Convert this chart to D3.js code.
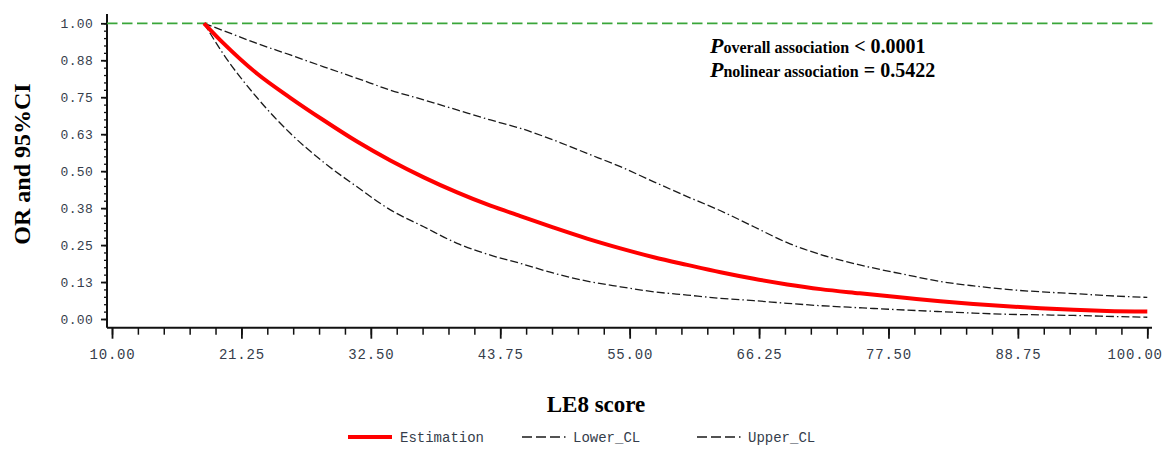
<!DOCTYPE html>
<html>
<head>
	<title></title>
	<script src="https://d3js.org/d3.v7.min.js"></script>
	<style>
		body { margin: 0; background: #fff; }
		.tick text { font-family: "Liberation Mono", monospace; fill: #353d4b; }
		.axis line, .axis path { stroke: #111; }
		.title { font-family: "Liberation Serif", "Times New Roman", serif; font-weight: bold; fill: #000; }
		.note { font-family: "Liberation Serif", "Times New Roman", serif; font-weight: bold; fill: #000; white-space: pre; }
		.legend text { font-family: "Liberation Mono", monospace; font-size: 14px; fill: #353d4b; }
	</style>
</head>
<body>
	<svg width="1170" height="459"></svg>
<script type="text/javascript">

// LE8 score positions
var score = [18, 19.7, 22.6, 25.5, 28.4, 31.3, 34.2, 37.1, 40, 42.9, 45.5, 48.4, 51.3, 54.2, 57.1,
	60, 62.9, 65.8, 68.7, 71.6, 75, 79.1, 82, 84.9, 87.8, 90.7, 93.6, 96.5, 100];
var estimation = [1.0, 0.932, 0.830, 0.748, 0.672, 0.600, 0.536, 0.479, 0.428, 0.383, 0.348, 0.309, 0.272, 0.239, 0.209,
	0.183, 0.158, 0.136, 0.117, 0.101, 0.087, 0.071, 0.060, 0.051, 0.043, 0.036, 0.031, 0.027, 0.025];
var lowerCL = [1.0, 0.895, 0.749, 0.628, 0.530, 0.447, 0.369, 0.312, 0.256, 0.216, 0.188, 0.155, 0.128, 0.109, 0.092,
	0.081, 0.070, 0.062, 0.053, 0.045, 0.038, 0.030, 0.025, 0.020, 0.016, 0.014, 0.012, 0.009, 0.006];
var upperCL = [1.0, 0.975, 0.932, 0.893, 0.853, 0.814, 0.774, 0.741, 0.707, 0.673, 0.645, 0.605, 0.560, 0.515, 0.464,
	0.414, 0.366, 0.312, 0.258, 0.218, 0.183, 0.149, 0.127, 0.112, 0.100, 0.092, 0.086, 0.079, 0.073];

var xTicks = [10, 21.25, 32.5, 43.75, 55, 66.25, 77.5, 88.75, 100];
var yTicks = [0, 0.125, 0.25, 0.375, 0.5, 0.625, 0.75, 0.875, 1];
var refLine = 1;
var legendNames = ["Estimation", "Lower_CL", "Upper_CL"];

var svg = d3.select("svg");
var x = d3.scaleLinear().domain([10, 100]).range([112, 1147.3]);
var y = d3.scaleLinear().domain([0, 1]).range([319, 23.3]);
var axisX = 107, axisY = 327.7;

// minor ticks first
svg.append("g")
	.attr("class", "axis")
	.attr("transform", "translate(" + axisX + ",0)")
	.call(d3.axisLeft(y).tickValues(d3.range(0, 41).map(function(i) { return i * 0.025; })).tickSize(3).tickFormat(""))
	.call(function(g) { g.select(".domain").remove(); g.selectAll("line").attr("stroke-width", 1.3); });
svg.append("g")
	.attr("class", "axis")
	.attr("transform", "translate(0," + axisY + ")")
	.call(d3.axisBottom(x).tickValues(d3.range(0, 41).map(function(i) { return 10 + i * 2.25; })).tickSize(7).tickFormat(""))
	.call(function(g) { g.select(".domain").remove(); g.selectAll("line").attr("stroke-width", 1.5); });

var yAxis = svg.append("g")
	.attr("class", "axis")
	.attr("transform", "translate(" + axisX + ",0)")
	.call(d3.axisLeft(y).tickValues(yTicks).tickFormat(d3.format(".2f")).tickSize(6).tickPadding(8));
yAxis.select(".domain").attr("d", "M0,14V" + axisY).attr("stroke-width", 2);
yAxis.selectAll("line").attr("stroke-width", 1.8);
yAxis.selectAll("text").attr("font-size", 13).attr("letter-spacing", 0.3);

var xAxis = svg.append("g")
	.attr("class", "axis")
	.attr("transform", "translate(0," + axisY + ")")
	.call(d3.axisBottom(x).tickValues(xTicks).tickFormat(d3.format(".2f")).tickSize(11).tickPadding(10));
xAxis.select(".domain").attr("d", "M" + axisX + ",0H1152").attr("stroke-width", 2);
xAxis.selectAll("line").attr("stroke-width", 1.8);
xAxis.selectAll("text").attr("font-size", 14).attr("letter-spacing", 0.8);
// last label kept inside the frame, like the original
xAxis.selectAll(".tick").filter(function(d) { return d == 100; }).select("text")
	.attr("text-anchor", "end").attr("x", 15);

// reference line at OR = 1
svg.append("line")
	.attr("x1", axisX).attr("x2", 1153)
	.attr("y1", y(refLine)).attr("y2", y(refLine))
	.attr("stroke", "#3aa63a").attr("stroke-width", 1.8)
	.attr("stroke-dasharray", "10.5,4.5");

var line = function(vals) {
	return d3.line()
		.x(function(d, i) { return x(score[i]); })
		.y(function(d) { return y(d); })
		.curve(d3.curveMonotoneX)(vals);
};
var dashCL = "8,3,8,3,8,3,1.5,3";

svg.append("path").attr("d", line(upperCL))
	.attr("fill", "none").attr("stroke", "#1a1a1a").attr("stroke-width", 1.3).attr("stroke-dasharray", dashCL);
svg.append("path").attr("d", line(lowerCL))
	.attr("fill", "none").attr("stroke", "#1a1a1a").attr("stroke-width", 1.3).attr("stroke-dasharray", dashCL);
svg.append("path").attr("d", line(estimation))
	.attr("fill", "none").attr("stroke", "#ff0000").attr("stroke-width", 4);

// axis titles
svg.append("text").attr("class", "title")
	.attr("transform", "translate(30,164) rotate(-90)")
	.attr("text-anchor", "middle").attr("font-size", 24)
	.text("OR and 95%CI");
svg.append("text").attr("class", "title")
	.attr("x", 596).attr("y", 412)
	.attr("text-anchor", "middle").attr("font-size", 23)
	.text("LE8 score");

// p values
var notes = [["overall association", " < 0.0001"], ["nolinear association", " = 0.5422"]];
notes.forEach(function(n, i) {
	var t = svg.append("text").attr("class", "note").attr("x", 710).attr("y", 53 + i * 23.5);
	t.append("tspan").attr("font-size", 22).attr("font-style", "italic").text("P");
	t.append("tspan").attr("font-size", 16).text(n[0]);
	t.append("tspan").attr("font-size", 20).text(n[1]);
});

// legend
var legendX = [348, 522, 697];
var legend = svg.append("g").attr("class", "legend")
	.selectAll("g")
	.data(legendNames)
	.enter().append("g")
	.attr("transform", function(d, i) { return "translate(" + legendX[i] + ",437)"; });
legend.append("line")
	.attr("x1", 0).attr("x2", function(d, i) { return i == 0 ? 44 : 47; })
	.attr("stroke", function(d, i) { return i == 0 ? "#ff0000" : "#1a1a1a"; })
	.attr("stroke-width", function(d, i) { return i == 0 ? 4 : 1.5; })
	.attr("stroke-dasharray", function(d, i) { return i == 0 ? null : "10,4,10,4,10,4,1.5,4"; });
legend.append("text")
	.attr("x", function(d, i) { return i == 0 ? 52 : 51; })
	.attr("dy", "0.35em")
	.text(function(d) { return d; });

</script>
</body>
</html>
